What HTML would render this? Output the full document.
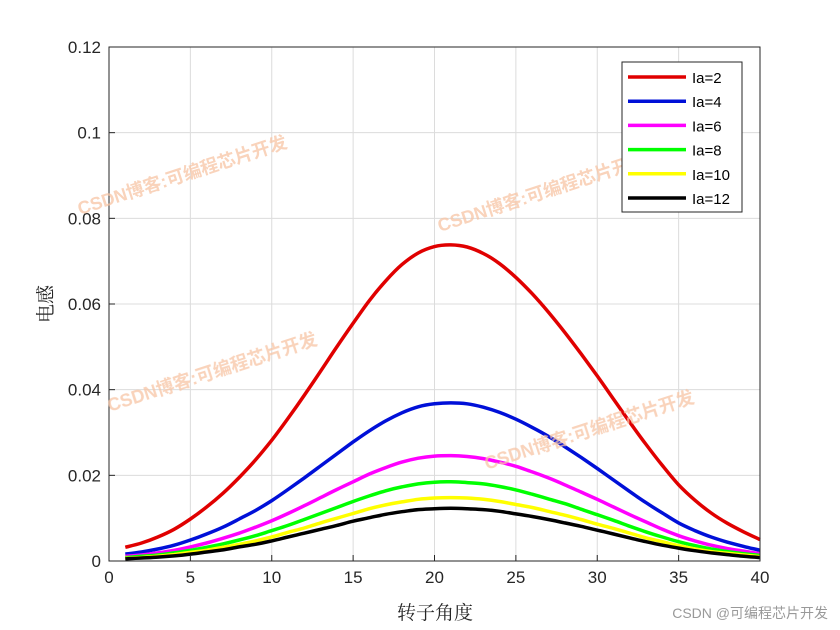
<!DOCTYPE html>
<html><head><meta charset="utf-8">
<style>
body{margin:0;background:#fff;}
svg{display:block;font-family:"Liberation Sans","Noto Sans CJK SC",sans-serif;}
</style></head>
<body>
<svg id="chart" width="840" height="630" viewBox="0 0 840 630">
<rect x="0" y="0" width="840" height="630" fill="#fff"/>
<rect x="109" y="47" width="651" height="514" fill="#fff"/>
<g id="grid"></g>
<g id="series"></g>
<rect x="109" y="47" width="651" height="514" fill="none" stroke="#262626" stroke-width="1"/>
<g id="ticks"></g>
<text x="52" y="304" transform="rotate(-90 52 304)" text-anchor="middle" font-size="19" fill="#262626" font-family="'Noto Serif CJK SC','Liberation Serif',serif">电感</text>
<text x="435" y="619" text-anchor="middle" font-size="19" fill="#262626" font-family="'Noto Serif CJK SC','Liberation Serif',serif">转子角度</text>
<g fill="#f7c4a4" font-size="18" font-weight="bold" opacity="0.75">
<text x="80" y="215" transform="rotate(-18 80 215)">CSDN博客:可编程芯片开发</text>
<text x="440" y="232" transform="rotate(-18 440 232)">CSDN博客:可编程芯片开发</text>
<text x="110" y="412" transform="rotate(-18 110 412)">CSDN博客:可编程芯片开发</text>
<text x="487" y="470" transform="rotate(-18 487 470)">CSDN博客:可编程芯片开发</text>
</g>
<g id="legend"></g>
<text x="828" y="618" text-anchor="end" font-size="14" fill="#999">CSDN @可编程芯片开发</text>
</svg>
<script>
const xValues = [1,2,3,4,5,6,7,8,9,10,11,12,13,14,15,16,17,18,19,20,21,22,23,24,25,26,27,28,29,30,31,32,33,34,35,36,37,38,39,40];
const seriesNames = ["Ia=2","Ia=4","Ia=6","Ia=8","Ia=10","Ia=12"];
const ia2 = [.0032,.0042,.0056,.0074,.0098,.0126,.0158,.0195,.0236,.0282,.0333,.0387,.0443,.0500,.0555,.0608,.0654,.0692,.0719,.0734,.0738,.0733,.0718,.0694,.0662,.0624,.0581,.0534,.0484,.0432,.0378,.0324,.0272,.0223,.0178,.0142,.0112,.0088,.0068,.0050];
const ia4 = [.0016,.0021,.0028,.0037,.0049,.0063,.0079,.0098,.0118,.0141,.0167,.0194,.0222,.0250,.0278,.0304,.0327,.0346,.0360,.0367,.0369,.0367,.0359,.0347,.0331,.0312,.0291,.0267,.0242,.0216,.0189,.0162,.0136,.0112,.0089,.0071,.0056,.0044,.0034,.0025];
const ia6 = [.0011,.0014,.0019,.0025,.0033,.0042,.0053,.0065,.0079,.0094,.0111,.0129,.0148,.0167,.0185,.0203,.0218,.0231,.0240,.0245,.0246,.0244,.0239,.0231,.0221,.0208,.0194,.0178,.0161,.0144,.0126,.0108,.0091,.0074,.0059,.0047,.0037,.0029,.0023,.0017];
const ia8 = [.0008,.0011,.0014,.0019,.0025,.0032,.0040,.0049,.0059,.0071,.0083,.0097,.0111,.0125,.0139,.0152,.0164,.0173,.0180,.0184,.0185,.0183,.0180,.0174,.0166,.0156,.0145,.0134,.0121,.0108,.0095,.0081,.0068,.0056,.0045,.0036,.0028,.0022,.0017,.0013];
const ia10 = [.0006,.0008,.0011,.0015,.0020,.0025,.0032,.0039,.0047,.0056,.0067,.0077,.0089,.0100,.0111,.0122,.0131,.0138,.0144,.0147,.0148,.0147,.0144,.0139,.0132,.0125,.0116,.0107,.0097,.0086,.0076,.0065,.0054,.0045,.0036,.0028,.0022,.0018,.0014,.0010];
const ia12 = [.0005,.0007,.0009,.0012,.0016,.0021,.0026,.0033,.0039,.0047,.0056,.0065,.0074,.0083,.0093,.0101,.0109,.0115,.0120,.0122,.0123,.0122,.0120,.0116,.0110,.0104,.0097,.0089,.0081,.0072,.0063,.0054,.0045,.0037,.0030,.0024,.0019,.0015,.0011,.0008];
const xTicks = [0,5,10,15,20,25,30,35,40];
const yTicks = [0,0.02,0.04,0.06,0.08,0.1,0.12];
const yTickLabels = ["0","0.02","0.04","0.06","0.08","0.1","0.12"];

const allSeries = [ia2,ia4,ia6,ia8,ia10,ia12];
const colors = ["#e00000","#0010d8","#ff00ff","#00ff00","#ffff00","#000000"];
const NS = "http://www.w3.org/2000/svg";
const X0=109,X1=760,Y0=561,Y1=47;
function sx(v){return X0+(v-0)/(40-0)*(X1-X0);}
function sy(v){return Y0-(v-0)/(0.12-0)*(Y0-Y1);}
function mk(tag,attrs,parent){const e=document.createElementNS(NS,tag);for(const k in attrs)e.setAttribute(k,attrs[k]);parent.appendChild(e);return e;}
function smoothPath(pts){
  let d='M'+pts[0][0].toFixed(1)+','+pts[0][1].toFixed(1);
  for(let i=0;i<pts.length-1;i++){
    const p0=pts[i-1]||pts[i],p1=pts[i],p2=pts[i+1],p3=pts[i+2]||p2;
    const c1x=p1[0]+(p2[0]-p0[0])/6,c1y=p1[1]+(p2[1]-p0[1])/6;
    const c2x=p2[0]-(p3[0]-p1[0])/6,c2y=p2[1]-(p3[1]-p1[1])/6;
    d+=' C'+c1x.toFixed(1)+','+c1y.toFixed(1)+' '+c2x.toFixed(1)+','+c2y.toFixed(1)+' '+p2[0].toFixed(1)+','+p2[1].toFixed(1);
  }
  return d;
}
const grid=document.getElementById('grid'),ticks=document.getElementById('ticks');
xTicks.forEach((t,i)=>{
  const g=mk('line',{x1:sx(t),x2:sx(t),y1:Y0,y2:Y1,stroke:'#dcdcdc','stroke-width':1},grid);
  
  
  const tk=mk('line',{x1:sx(t),x2:sx(t),y1:Y0,y2:Y0-6,stroke:'#262626'},ticks);
  
  
  const tx=mk('text',{x:sx(t),y:Y0+22,'text-anchor':'middle','font-size':17,fill:'#262626'},ticks);
  tx.textContent=t;
  
  
});
yTicks.forEach((t,i)=>{
  const g=mk('line',{x1:X0,x2:X1,y1:sy(t),y2:sy(t),stroke:'#dcdcdc','stroke-width':1},grid);
  
  
  const tk=mk('line',{x1:X0,x2:X0+6,y1:sy(t),y2:sy(t),stroke:'#262626'},ticks);
  
  
  const tx=mk('text',{x:X0-8,y:sy(t)+6,'text-anchor':'end','font-size':17,fill:'#262626'},ticks);
  tx.textContent=yTickLabels[i];
  
  
});
const sg=document.getElementById('series');
allSeries.forEach((arr,si)=>{
  const pts=arr.map((v,i)=>[sx(xValues[i]),sy(v)]);
  const p=mk('path',{d:smoothPath(pts),fill:'none',stroke:colors[si],'stroke-width':3.5,'stroke-linejoin':'round'},sg);
  
  
});
const lg=document.getElementById('legend');
const box=mk('rect',{x:622,y:62,width:120,height:150,fill:'#fff',stroke:'#262626','stroke-width':1},lg);


seriesNames.forEach((n,i)=>{
  const y=77+i*24.2;
  const l=mk('line',{x1:628,x2:686,y1:y,y2:y,stroke:colors[i],'stroke-width':3.5},lg);
  
  
  const t=mk('text',{x:692,y:y+6,'font-size':15,fill:'#000'},lg);
  t.textContent=n;
  
  
});
</script>
</body></html>
